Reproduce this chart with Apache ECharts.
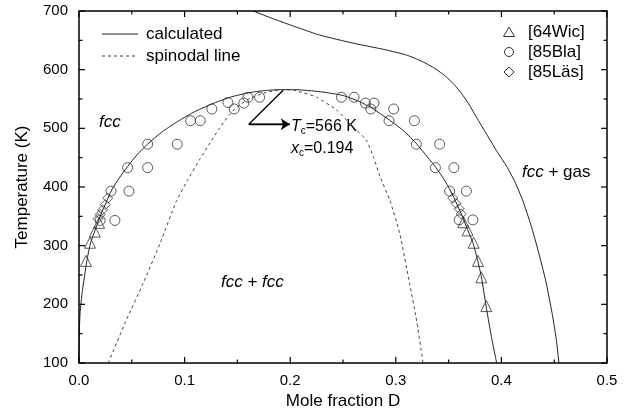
<!DOCTYPE html>
<html>
<head>
    <meta charset="UTF-8">
    <title>fcc miscibility gap</title>
    <style>
        html, body { margin: 0; padding: 0; background: #fff; }
        #main { width: 626px; height: 415px; }
    </style>
    <script src="https://cdn.jsdelivr.net/npm/echarts@6/dist/echarts.min.js"></script>
</head>
<body>
    <div id="main"></div>
    <script type="text/javascript">
        // calculated binodal (miscibility gap), x = mole fraction D, T in K
        var binodalX = [0.0, 0.0003, 0.001, 0.003, 0.005, 0.0075, 0.011, 0.015, 0.020, 0.026, 0.031, 0.038, 0.046, 0.055, 0.065, 0.078, 0.092, 0.108, 0.125, 0.145, 0.165, 0.18, 0.194, 0.21, 0.23, 0.25, 0.265, 0.277, 0.294, 0.308, 0.32, 0.33, 0.338, 0.346, 0.352, 0.358, 0.363, 0.368, 0.373, 0.3775, 0.381, 0.3855, 0.390, 0.3955];
        var binodalT = [100, 150, 185, 220, 245, 275, 305, 325, 350, 375, 395, 415, 435, 455, 473, 493, 510, 527, 541, 554, 562, 565, 566, 565.5, 562, 556, 546, 535, 514, 495, 473, 451, 433, 412, 393, 370, 350, 327, 305, 275, 247, 197, 150, 100];
        // spinodal line
        var spinX = [0.0277, 0.044, 0.0608, 0.077, 0.092, 0.103, 0.114, 0.124, 0.133, 0.142, 0.150, 0.162, 0.175, 0.185, 0.194, 0.203, 0.212, 0.225, 0.244, 0.258, 0.272, 0.279, 0.285, 0.2942, 0.3037, 0.313, 0.319, 0.3258];
        var spinT = [100, 170, 236, 305, 375, 412, 446, 475, 500, 522, 537, 551, 560, 564, 566, 565, 561, 553, 531, 505, 480, 450, 418, 378, 321, 236, 180, 100];
        // fcc / fcc + gas boundary
        var gasX = [0.165, 0.185, 0.209, 0.228, 0.26, 0.29, 0.31, 0.325, 0.337, 0.347, 0.355, 0.362, 0.369, 0.376, 0.386, 0.396, 0.405, 0.413, 0.420, 0.428, 0.435, 0.442, 0.448, 0.452, 0.4545];
        var gasT = [700, 686, 670.5, 659, 645, 634, 625, 614, 602, 589, 575, 560, 542, 520, 490, 460, 435, 408, 378, 335, 290, 240, 185, 140, 100];

        // experimental points
        var wicX = [0.0066, 0.0104, 0.015, 0.019, 0.3857, 0.381, 0.3778, 0.3737, 0.368, 0.364];
        var wicT = [274, 305, 324, 339, 197, 246, 274, 305, 326, 340];
        var blaX = [0.0303, 0.0473, 0.046, 0.065, 0.065, 0.093, 0.1057, 0.1148, 0.1258, 0.141, 0.147, 0.156, 0.160, 0.171, 0.2485, 0.2605, 0.2712, 0.2794, 0.2763, 0.298, 0.2936, 0.3176, 0.3195, 0.3415, 0.3375, 0.355, 0.351, 0.3668, 0.020, 0.034, 0.360, 0.373];
        var blaT = [393, 393, 433, 433, 473, 473, 513, 513, 533, 544, 533, 543, 553, 553, 553, 553, 543, 543, 533, 533, 513, 513, 473, 473, 433, 433, 393, 393, 343, 343, 344, 344];
        var lasX = [0.0272, 0.0249, 0.0224, 0.020, 0.018, 0.354, 0.357, 0.360, 0.362];
        var lasT = [381, 370, 361, 353, 346, 381, 372, 363, 354];

        // Tc marker arrow
        var arrowX = [0.1933, 0.1608, 0.1996];
        var arrowT = [565, 507, 507];

        // tick values (major ticks are labelled on the bottom / left axes)
        var xMajorTicks = [0, 0.1, 0.2, 0.3, 0.4, 0.5];
        var xMinorTicks = [0.05, 0.15, 0.25, 0.35, 0.45];
        var yMajorTicks = [100, 200, 300, 400, 500, 600, 700];
        var yMinorTicks = [150, 250, 350, 450, 550, 650];

        function zip(xs, ys) {
            var out = [];
            for (var i = 0; i < xs.length; i++) out.push([xs[i], ys[i]]);
            return out;
        }

        var ink = '#222';
        var font = 'Liberation Sans';
        var myChart = echarts.init(document.getElementById('main'));

        var graphicItems = [
            // line legend
            { type: 'line', shape: { x1: 102, y1: 34, x2: 138, y2: 34 }, style: { stroke: ink, lineWidth: 1 } },
            { type: 'line', shape: { x1: 102, y1: 56, x2: 138, y2: 56 }, style: { stroke: '#444', lineWidth: 1, lineDash: [3, 3] } },
            { type: 'text', x: 146, y: 34, style: { text: 'calculated', font: '17px "Liberation Sans"', fill: '#000', verticalAlign: 'middle' } },
            { type: 'text', x: 146, y: 56, style: { text: 'spinodal line', font: '17px "Liberation Sans"', fill: '#000', verticalAlign: 'middle' } },
            // symbol legend
            { type: 'polygon', shape: { points: [[509, 27], [514.5, 36.5], [503.5, 36.5]] }, style: { fill: 'none', stroke: '#333', lineWidth: 1 } },
            { type: 'circle', shape: { cx: 509, cy: 52, r: 4.5 }, style: { fill: 'none', stroke: '#333', lineWidth: 1 } },
            { type: 'polygon', shape: { points: [[509, 67], [514, 72], [509, 77], [504, 72]] }, style: { fill: 'none', stroke: '#333', lineWidth: 1 } },
            { type: 'text', x: 528, y: 32, style: { text: '[64Wic]', font: '17px "Liberation Sans"', fill: '#000', verticalAlign: 'middle' } },
            { type: 'text', x: 528, y: 52, style: { text: '[85Bla]', font: '17px "Liberation Sans"', fill: '#000', verticalAlign: 'middle' } },
            { type: 'text', x: 528, y: 72, style: { text: '[85Läs]', font: '17px "Liberation Sans"', fill: '#000', verticalAlign: 'middle' } },
            // region labels
            {
                type: 'text', left: 99, top: 114,
                style: { text: 'fcc', font: 'italic 17px "Liberation Sans"', fill: '#000' }
            },
            {
                type: 'text', left: 221, top: 274,
                style: {
                    text: '{i|fcc} + {i|fcc}',
                    font: '17px "Liberation Sans"', fill: '#000',
                    rich: { i: { fontStyle: 'italic', fontSize: 17, fontFamily: font } }
                }
            },
            {
                type: 'text', left: 522, top: 164,
                style: {
                    text: '{i|fcc} + gas',
                    font: '17px "Liberation Sans"', fill: '#000',
                    rich: { i: { fontStyle: 'italic', fontSize: 17, fontFamily: font } }
                }
            },
            {
                type: 'text', left: 291, top: 117,
                style: {
                    text: '{i|T}{s|c}{n|=566 K}',
                    fill: '#000',
                    rich: {
                        i: { fontStyle: 'italic', fontSize: 16, fontFamily: font, lineHeight: 18 },
                        s: { fontSize: 10, fontFamily: font, padding: [9, 0, 0, 0], lineHeight: 10 },
                        n: { fontSize: 16, fontFamily: font, lineHeight: 18 }
                    }
                }
            },
            {
                type: 'text', left: 291, top: 139,
                style: {
                    text: '{i|x}{s|c}{n|=0.194}',
                    fill: '#000',
                    rich: {
                        i: { fontStyle: 'italic', fontSize: 16, fontFamily: font, lineHeight: 18 },
                        s: { fontSize: 10, fontFamily: font, padding: [9, 0, 0, 0], lineHeight: 10 },
                        n: { fontSize: 16, fontFamily: font, lineHeight: 18 }
                    }
                }
            }
        ];

        var option = {
            animation: false,
            backgroundColor: '#fff',
            textStyle: { fontFamily: font },
            grid: { left: 79, right: 19, top: 11, bottom: 52 },
            xAxis: {
                type: 'value', min: 0, max: 0.5, interval: 0.1,
                axisLine: { show: false, onZero: false },
                axisTick: { show: false },
                splitLine: { show: false },
                name: 'Mole fraction D', nameLocation: 'middle', nameGap: 28,
                nameTextStyle: { fontSize: 17, color: '#000' },
                axisLabel: { fontSize: 15, color: '#000', margin: 10,
                    formatter: function (v) { return typeof v === 'number' ? v.toFixed(1) : v; } }
            },
            yAxis: {
                type: 'value', min: 100, max: 700, interval: 100,
                axisLine: { show: false, onZero: false },
                axisTick: { show: false },
                splitLine: { show: false },
                name: 'Temperature (K)', nameLocation: 'middle', nameGap: 48,
                nameTextStyle: { fontSize: 17, color: '#000' },
                axisLabel: { fontSize: 15, color: '#000', margin: 11 }
            },
            series: [
                {
                    name: 'calculated', type: 'line', data: zip(binodalX, binodalT),
                    showSymbol: false, symbol: 'none', smooth: 0.2,
                    lineStyle: { color: ink, width: 1 }, itemStyle: { color: ink }
                },
                {
                    name: 'calculated', type: 'line', data: zip(gasX, gasT),
                    showSymbol: false, symbol: 'none', smooth: 0.2,
                    lineStyle: { color: ink, width: 1 }, itemStyle: { color: ink }
                },
                {
                    name: 'spinodal line', type: 'line', data: zip(spinX, spinT),
                    showSymbol: false, symbol: 'none', smooth: 0.2,
                    lineStyle: { color: '#444', width: 1, type: [3, 3] }, itemStyle: { color: '#444' }
                },
                {
                    name: 'arrow', type: 'line', data: zip(arrowX, arrowT),
                    showSymbol: false, symbol: 'none', silent: true,
                    lineStyle: { color: '#000', width: 1.3 },
                    markLine: {
                        silent: true, symbol: ['none', 'arrow'], symbolSize: 9,
                        label: { show: false },
                        itemStyle: { color: '#000' },
                        lineStyle: { color: '#000', width: 1.3, type: 'solid' },
                        data: [[{ coord: [arrowX[1], arrowT[1]] }, { coord: [arrowX[2], arrowT[2]] }]]
                    }
                },
                {
                    name: '[64Wic]', type: 'scatter', data: zip(wicX, wicT),
                    symbol: 'triangle', symbolSize: 11,
                    itemStyle: { color: 'rgba(0,0,0,0)', borderColor: '#333', borderWidth: 1 }
                },
                {
                    name: '[85Bla]', type: 'scatter', data: zip(blaX, blaT),
                    symbol: 'circle', symbolSize: 10,
                    itemStyle: { color: 'rgba(0,0,0,0)', borderColor: '#333', borderWidth: 1 }
                },
                {
                    name: '[85Läs]', type: 'scatter', data: zip(lasX, lasT),
                    symbol: 'diamond', symbolSize: 10,
                    itemStyle: { color: 'rgba(0,0,0,0)', borderColor: '#333', borderWidth: 1 }
                }
            ],
            graphic: graphicItems
        };
        myChart.setOption(option);

        // frame box and inward ticks on all four sides, placed through the chart's own scales
        function tickLine(x1, y1, x2, y2) {
            return {
                type: 'line', z: 100, silent: true,
                shape: { x1: x1, y1: y1, x2: x2, y2: y2 },
                style: { stroke: '#000', lineWidth: 1.2 }
            };
        }
        var px = function (v) { return myChart.convertToPixel({ xAxisIndex: 0 }, v); };
        var py = function (v) { return myChart.convertToPixel({ yAxisIndex: 0 }, v); };
        var L = px(0), R = px(0.5), B = py(100), T = py(700);
        var frame = [{
            type: 'rect', z: 100, silent: true,
            shape: { x: L, y: T, width: R - L, height: B - T },
            style: { fill: 'none', stroke: '#000', lineWidth: 1.5 }
        }];
        xMajorTicks.forEach(function (v) {
            var x = px(v);
            frame.push(tickLine(x, B, x, B - 6));
            frame.push(tickLine(x, T, x, T + 6));
        });
        xMinorTicks.forEach(function (v) {
            var x = px(v);
            frame.push(tickLine(x, B, x, B - 3.5));
            frame.push(tickLine(x, T, x, T + 3.5));
        });
        yMajorTicks.forEach(function (v) {
            var y = py(v);
            frame.push(tickLine(L, y, L + 6, y));
            frame.push(tickLine(R, y, R - 6, y));
        });
        yMinorTicks.forEach(function (v) {
            var y = py(v);
            frame.push(tickLine(L, y, L + 3.5, y));
            frame.push(tickLine(R, y, R - 3.5, y));
        });
        myChart.setOption({ graphic: graphicItems.concat(frame) });
    </script>
</body>
</html>
